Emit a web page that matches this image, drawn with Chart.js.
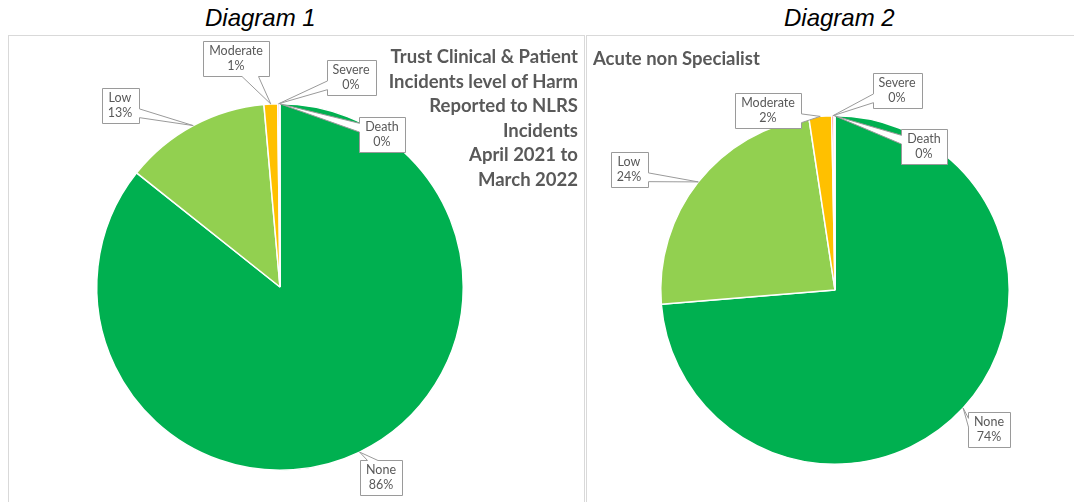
<!DOCTYPE html>
<html>
<head>
<meta charset="utf-8">
<script src="https://cdn.jsdelivr.net/npm/chart.js@4.4.1/dist/chart.umd.min.js"></script>
<style>
  body { margin: 0; background: #fff; width: 1074px; height: 502px; overflow: hidden; position: relative; font-family: 'Liberation Sans', Arial, sans-serif; }
  .cap { position: absolute; top: 4px; font-style: italic; font-size: 24px; color: #000; white-space: nowrap; }
  .panel { position: absolute; top: 35px; height: 480px; border: 1px solid #d9d9d9; box-sizing: border-box; }
  canvas.pie { position: absolute; top: 36px; }
  .ttl { position: absolute; font-family: Lato, 'Open Sans', sans-serif; font-weight: bold; color: #595959; white-space: nowrap; }
</style>
</head>
<body>

<div class="cap" style="left:205px">Diagram 1</div>
<div class="cap" style="left:784px">Diagram 2</div>

<div class="panel" style="left:8px;width:577px"></div>
<div class="panel" style="left:586px;width:500px"></div>

<canvas id="pie1" class="pie" style="left:9px" width="574" height="466"></canvas>
<canvas id="pie2" class="pie" style="left:587px" width="487" height="466"></canvas>

<div id="t1" class="ttl" style="right:496px;top:44px;font-size:18.5px;line-height:24.6px;text-align:right"></div>
<div id="t2" class="ttl" style="left:593px;top:47px;font-size:18.5px"></div>

<script>
// ---- data ----
const harmLevels = ['None', 'Low', 'Moderate', 'Severe', 'Death'];
const trustValues = [85.7, 12.9, 1.2, 0.15, 0.05];   // Diagram 1 (% share)
const acuteValues = [73.7, 23.9, 2.1, 0.2, 0.1];     // Diagram 2 (% share)
const trustTitle = ['Trust Clinical & Patient', 'Incidents level of Harm', 'Reported to NLRS', 'Incidents', 'April 2021 to', 'March 2022'];
const acuteTitle = 'Acute non Specialist';

const sliceColours = ['#00B050', '#92D050', '#FFC000', '#FF6060', '#C00000'];

document.getElementById('t1').innerHTML = trustTitle.map(s => s.replace('&', '&amp;')).join('<br>');
document.getElementById('t2').textContent = acuteTitle;

// Excel-style wedge callouts (wedgeRectCallout geometry)
const callouts = {
  id: 'callouts',
  afterDatasetsDraw(chart, args, opts) {
    const ctx = chart.ctx;
    const meta = chart.getDatasetMeta(0);
    const data = chart.data.datasets[0].data;
    const total = data.reduce((a, b) => a + b, 0);
    ctx.save();
    ctx.font = opts.font;
    ctx.textAlign = 'center';
    ctx.textBaseline = 'middle';
    meta.data.forEach((arc, i) => {
      const p = arc.getProps(['x', 'y', 'startAngle', 'endAngle', 'outerRadius'], true);
      const mid = (p.startAngle + p.endAngle) / 2;
      const tip = { x: p.x + Math.cos(mid) * p.outerRadius, y: p.y + Math.sin(mid) * p.outerRadius };
      const cx = p.x + opts.offsets[i][0];
      const cy = p.y + opts.offsets[i][1];
      const lines = [chart.data.labels[i], Math.round(data[i] / total * 100) + '%'];
      const w = Math.round(Math.max(...lines.map(t => ctx.measureText(t).width)) + 12);
      const h = 35;
      const x0 = Math.round(cx - w / 2) + 0.5, y0 = Math.round(cy - h / 2) + 0.5;
      const xR = x0 + w, yB = y0 + h;

      const dxPos = tip.x - cx, dyPos = tip.y - cy;
      const dq = dxPos * h / w;
      const vertical = Math.abs(dyPos) - Math.abs(dq) > 0;
      const bx1 = w * (dxPos > 0 ? 7 : 2) / 12, bx2 = w * (dxPos > 0 ? 10 : 5) / 12;
      const by1 = h * (dyPos > 0 ? 7 : 2) / 12, by2 = h * (dyPos > 0 ? 10 : 5) / 12;
      const side = vertical ? (dyPos < 0 ? 'top' : 'bottom') : (dxPos < 0 ? 'left' : 'right');

      ctx.beginPath();
      ctx.moveTo(x0, y0);
      if (side === 'top') { ctx.lineTo(x0 + bx1, y0); ctx.lineTo(tip.x, tip.y); ctx.lineTo(x0 + bx2, y0); }
      ctx.lineTo(xR, y0);
      if (side === 'right') { ctx.lineTo(xR, y0 + by1); ctx.lineTo(tip.x, tip.y); ctx.lineTo(xR, y0 + by2); }
      ctx.lineTo(xR, yB);
      if (side === 'bottom') { ctx.lineTo(x0 + bx2, yB); ctx.lineTo(tip.x, tip.y); ctx.lineTo(x0 + bx1, yB); }
      ctx.lineTo(x0, yB);
      if (side === 'left') { ctx.lineTo(x0, y0 + by2); ctx.lineTo(tip.x, tip.y); ctx.lineTo(x0, y0 + by1); }
      ctx.closePath();
      ctx.fillStyle = '#fff';
      ctx.fill();
      ctx.strokeStyle = '#9a9a9a';
      ctx.lineWidth = 1;
      ctx.stroke();

      ctx.fillStyle = '#595959';
      ctx.fillText(lines[0], cx, cy - 7.5);
      ctx.fillText(lines[1], cx, cy + 8);
    });
    ctx.restore();
  }
};

function makePie(id, values, padding, offsets) {
  return new Chart(document.getElementById(id), {
    type: 'pie',
    data: {
      labels: harmLevels,
      datasets: [{
        data: values,
        backgroundColor: sliceColours,
        borderColor: '#ffffff',
        borderWidth: 1.5,
        hoverOffset: 0
      }]
    },
    options: {
      responsive: false,
      animation: false,
      events: [],
      layout: { padding },
      plugins: {
        legend: { display: false },
        tooltip: { enabled: false },
        callouts: { font: '12.5px Lato, "Open Sans", sans-serif', offsets }
      }
    },
    plugins: [callouts]
  });
}

makePie('pie1', trustValues,
  { left: 87, right: 119, top: 67, bottom: 31 },
  [[101, 190], [-160, -182], [-44, -229], [71, -210], [102, -153]]);

makePie('pie2', acuteValues,
  { left: 73, right: 64, top: 79, bottom: 37 },
  [[154, 139], [-206, -121], [-67, -180], [62, -200], [89, -144]]);
</script>
</body>
</html>
